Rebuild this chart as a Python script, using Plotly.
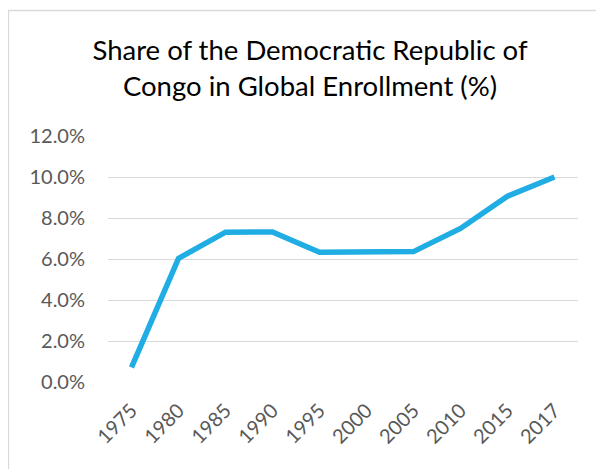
import plotly.graph_objects as go

years = ["1975", "1980", "1985", "1990", "1995", "2000", "2005", "2010", "2015", "2017"]
share_pct = [0.71, 6.03, 7.31, 7.32, 6.33, 6.36, 6.36, 7.49, 9.06, 10.0]
y_ticks = [0, 2, 4, 6, 8, 10, 12]
y_tick_labels = ["0.0%", "2.0%", "4.0%", "6.0%", "8.0%", "10.0%", "12.0%"]
title_text = "Share of the Democratic Republic of<br>Congo in Global Enrollment (%)"

# page has an 8px body margin, so the figure is drawn 8px smaller/shifted
OFF = 8
W, H = 604 - OFF, 469 - OFF
L, R, T, B = 108 - OFF, 26, 136 - OFF, 87
pw, ph = W - L - R, H - T - B

def px_x(p):
    return (p - OFF - L) / pw

def px_y(p):
    return (H - B - (p - OFF)) / ph

fig = go.Figure()
fig.add_trace(go.Scatter(
    x=years, y=share_pct, mode="lines",
    line=dict(color="#1FADE4", width=5.5, shape="linear"),
    hoverinfo="skip", showlegend=False,
))

font_family = "Lato, 'Open Sans', sans-serif"

fig.update_layout(
    width=W, height=H,
    margin=dict(l=L, r=R, t=T, b=B, pad=0),
    paper_bgcolor="white", plot_bgcolor="white",
    title=dict(text=title_text, x=(310 - OFF) / W, xanchor="center",
               y=1 - 52 / H, yanchor="middle",
               font=dict(family=font_family, size=27.5, color="#000000")),
    font=dict(family=font_family, size=20, color="#595959"),
    xaxis=dict(type="category", range=[-0.5, len(years) - 0.5],
               showgrid=False, zeroline=False, showline=False,
               tickangle=-45, ticks="", tickfont=dict(size=20, color="#595959"),
               ticklabelstandoff=12),
    yaxis=dict(range=[0, 12], tickvals=y_ticks, ticktext=y_tick_labels,
               showgrid=True, gridcolor="#D9D9D9", gridwidth=1.3,
               zeroline=False, showline=False, ticks="",
               tickfont=dict(size=20, color="#595959"), ticklabelstandoff=22),
    shapes=[dict(type="rect", xref="paper", yref="paper",
                 x0=px_x(8.5), x1=px_x(640), y0=px_y(500), y1=px_y(10.5),
                 line=dict(color="#D9D9D9", width=1.3), fillcolor="rgba(0,0,0,0)",
                 layer="below")],
)

fig.write_html("out.html")
